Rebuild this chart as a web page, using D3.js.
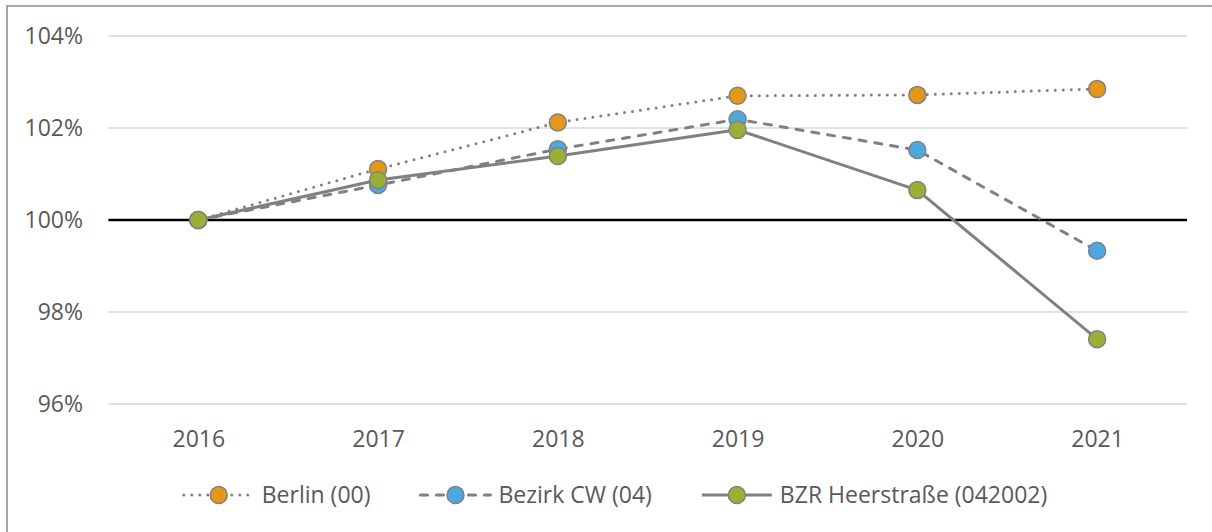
<!DOCTYPE html>
<html>
<head>
<meta charset="utf-8">
<script src="https://cdn.jsdelivr.net/npm/d3@7"></script>
<style>
  body { margin: 0; background: #fff; }
  text { font-family: "Open Sans", sans-serif; fill: #595959; }
</style>
</head>
<body>
<script>
const years = ["2016", "2017", "2018", "2019", "2020", "2021"];
const berlin = [1.0, 1.0111, 1.0212, 1.0270, 1.0272, 1.0285];
const bezirkCW = [1.0, 1.0076, 1.0154, 1.0219, 1.0152, 0.9933];
const heerstrasse = [1.0, 1.0087, 1.0139, 1.0196, 1.0065, 0.9741];
const yTicks = [0.96, 0.98, 1.0, 1.02, 1.04];
const seriesNames = ["Berlin (00)", "Bezirk CW (04)", "BZR Heerstraße (042002)"];

const series = [
    { name: seriesNames[0], values: berlin, fill: "#e3981a", dash: "0,8", cap: "round" },
    { name: seriesNames[1], values: bezirkCW, fill: "#4ea8e0", dash: "7,9", cap: "round" },
    { name: seriesNames[2], values: heerstrasse, fill: "#9aaf34", dash: null, cap: "butt" }
];

const width = 1212, height = 532;
const svg = d3.select("body").append("svg")
    .attr("width", width)
    .attr("height", height);

// chart frame
svg.append("rect")
    .attr("x", 7).attr("y", 6)
    .attr("width", width + 20).attr("height", height + 20)
    .attr("fill", "none")
    .attr("stroke", "#898989")
    .attr("stroke-width", 1.5);

const x = d3.scalePoint()
    .domain(years)
    .range([108.4, 1187])
    .padding(0.5);

const y = d3.scaleLinear()
    .domain([0.96, 1.04])
    .range([404, 36]);

// gridlines
svg.append("g")
    .selectAll("line")
    .data(yTicks)
    .enter()
    .append("line")
    .attr("x1", 108.4).attr("x2", 1187)
    .attr("y1", d => y(d)).attr("y2", d => y(d))
    .attr("stroke", d => d === 1.0 ? "#000" : "#d9d9d9")
    .attr("stroke-width", d => d === 1.0 ? 2.5 : 1.5);

// y labels
const yAxis = d3.axisLeft(y)
    .tickValues(yTicks)
    .tickFormat(d3.format(".0%"))
    .tickSize(0)
    .tickPadding(0);
const gy = svg.append("g")
    .attr("transform", "translate(83,0)")
    .call(yAxis);
gy.select(".domain").remove();
gy.selectAll("text")
    .attr("font-size", 23)
    .style("font-family", "'Open Sans', sans-serif")
    .attr("fill", "#595959");

// x labels
const xAxis = d3.axisBottom(x).tickSize(0).tickPadding(0);
const gx = svg.append("g")
    .attr("transform", "translate(0,439)")
    .call(xAxis);
gx.select(".domain").remove();
gx.selectAll("text")
    .attr("dy", "0.35em")
    .attr("font-size", 23)
    .style("font-family", "'Open Sans', sans-serif")
    .attr("fill", "#595959");

const line = d3.line()
    .x((d, i) => x(years[i]))
    .y(d => y(d));

// lines
svg.append("g")
    .selectAll("path")
    .data(series)
    .enter()
    .append("path")
    .attr("d", d => line(d.values))
    .attr("fill", "none")
    .attr("stroke", "#808080")
    .attr("stroke-width", 3)
    .attr("stroke-linecap", d => d.cap)
    .attr("stroke-linejoin", "round")
    .attr("stroke-dasharray", d => d.dash);

// markers
series.forEach(s => {
    svg.append("g")
        .selectAll("circle")
        .data(s.values)
        .enter()
        .append("circle")
        .attr("cx", (d, i) => x(years[i]))
        .attr("cy", d => y(d))
        .attr("r", 8.5)
        .attr("fill", s.fill)
        .attr("stroke", "#808080")
        .attr("stroke-width", 1.5);
});

// legend
const legendY = 495;
const lineLen = 70, textGap = 8, itemGap = 50;
const legend = svg.append("g");
const items = legend.selectAll("g")
    .data(series)
    .enter()
    .append("g");

items.append("line")
    .attr("x1", 0).attr("x2", lineLen)
    .attr("y1", legendY).attr("y2", legendY)
    .attr("stroke", "#808080")
    .attr("stroke-width", 3)
    .attr("stroke-linecap", d => d.cap)
    .attr("stroke-dasharray", d => d.dash);

items.append("circle")
    .attr("cx", lineLen / 2)
    .attr("cy", legendY)
    .attr("r", 8.5)
    .attr("fill", d => d.fill)
    .attr("stroke", "#808080")
    .attr("stroke-width", 1.5);

items.append("text")
    .attr("x", lineLen + textGap)
    .attr("y", legendY)
    .attr("dy", "0.35em")
    .attr("font-size", 23)
    .text(d => d.name);

let offsets = [];
let cursor = 0;
items.each(function () {
    offsets.push(cursor);
    cursor += this.getBBox().width + itemGap;
});
const total = cursor - itemGap;
const startX = 615.5 - total / 2;
items.attr("transform", (d, i) => "translate(" + (startX + offsets[i]) + ",0)");
</script>
</body>
</html>
